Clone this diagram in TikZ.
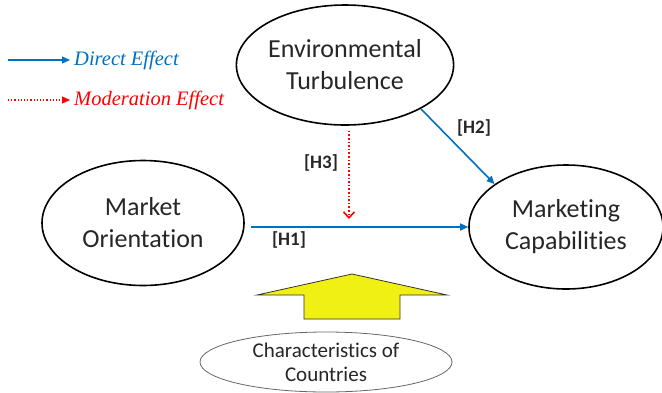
\documentclass[tikz,border=0pt]{standalone}
\usepackage{fontspec}
\setmainfont[Ligatures=NoCommon]{Carlito}
\newfontfamily\legendfont{Liberation Serif}
\usepackage{xcolor}
\usetikzlibrary{shapes.geometric,arrows.meta,calc}
\definecolor{effblue}{RGB}{0,112,192}
\definecolor{modred}{RGB}{255,0,0}
\definecolor{arrowyellow}{RGB}{240,240,20}
\tikzset{>={Triangle[length=8pt,width=7pt]},
    construct/.style={ellipse, draw=black, line width=1.6pt, inner sep=0pt, align=center,
      font=\fontsize{26}{32}\selectfont, text=black!85},
    direct/.style={draw=effblue, line width=1.6pt, ->},
    moderation/.style={draw=modred, line width=1.6pt, dotted, -{Straight Barb[length=6pt,width=11pt]}}}

\begin{document}
\begin{tikzpicture}[x=1pt, y=-1pt,
      hyp/.style={font=\fontsize{19}{22}\selectfont\bfseries, text=black!85},
      legend/.style={font=\fontsize{20.5}{23}\selectfont\legendfont\itshape, anchor=west, inner sep=4pt}]
  \useasboundingbox (0,0) rectangle (662,392);
  % Constructs
  \node[construct, minimum width=196, minimum height=120] (env) at (345,65) {Environmental\\Turbulence};
  \node[construct, minimum width=202, minimum height=125] (mo) at (143,223) {Market\\Orientation};
  \node[construct, minimum width=194, minimum height=124] (cap) at (566,227) {Marketing\\Capabilities};
  \node[ellipse, draw=black!60, line width=0.8pt, inner sep=0pt, align=center,
    minimum width=252, minimum height=60, font=\fontsize{21}{24}\selectfont, text=black!85]
    (ctry) at (326,362) {Characteristics of\\Countries};
  % Legend
  \node[legend, text=effblue] (dirtxt) at (70,60) {Direct Effect};
  \node[legend, text=modred] (modtxt) at (70,100) {Moderation Effect};
  \coordinate (dirstart) at (8,60);
  \coordinate (modstart) at (8,100);
  \draw[direct, line width=1.2pt] (dirstart) -- (dirtxt.west);
  \draw[draw=modred, line width=1.2pt, dotted, ->] (modstart) -- (modtxt.west);
  % Hypotheses
  \draw[direct, shorten <=6pt] (mo.east |- cap.west) -- (cap.west);
  \draw[direct] (env.-30) -- (cap.149);
  \coordinate (modpt) at (349,219);
  \draw[moderation, shorten <=5pt] (modpt |- env.south) -- (modpt);
  \node[hyp] (h1) at (289,240) {[H1]};
  \node[hyp] (h2) at (474,128) {[H2]};
  \node[hyp] (h3) at (321,163) {[H3]};
  % Country effect
  \draw[fill=arrowyellow, draw=black!80, line width=0.8pt]
    (352,274) -- (447,295) -- (400,295) -- (400,319) -- (304,319) -- (304,295) -- (257,295) -- cycle;
\end{tikzpicture}
\end{document}
